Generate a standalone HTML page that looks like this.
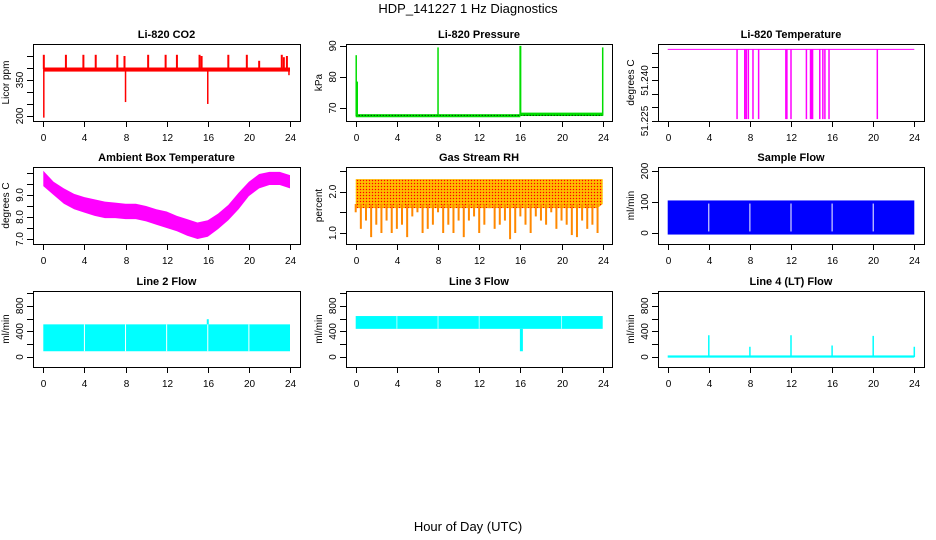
<!DOCTYPE html>
<html><head><meta charset="utf-8"><style>
body{margin:0;background:#fff}
svg{display:block;font-family:"Liberation Sans",sans-serif}
.t{font-weight:bold;font-size:11px;text-anchor:middle}
.tk{font-size:10px}
</style></head><body>
<svg id="c" width="936" height="540">
<defs>
<pattern id="rhpat" width="3" height="3" patternUnits="userSpaceOnUse"><rect width="3" height="3" fill="#ffa500"/><rect width="1" height="1" fill="#ff0000"/><rect x="1.5" y="1.5" width="1" height="1" fill="#ffff00"/></pattern>
</defs>
<text x="468" y="13" font-size="13" text-anchor="middle">HDP_141227  1 Hz Diagnostics</text>
<text x="468" y="531" font-size="13" text-anchor="middle">Hour of Day (UTC)</text>
</svg>
<script>
const xTicks=[0,4,8,12,16,20,24];
const co2Spikes=[0.05,2.2,3.9,5.1,7.2,7.9,10.2,11.9,13.0,15.2,15.4,18.0,19.8,21.0,23.2,23.4,23.7];
const co2SpikeVals=[455,455,455,455,455,450,455,455,455,455,450,455,455,430,455,445,450];
const co2Dips=[0.05,8.0,16.0,23.9];
const co2DipVals=[193,258,250,370];
const presSpikeHours=[0.05,0.15,8.0,16.0,24.0];
const presSpikeVals=[87,78.5,89.5,90,89.5];
const tempDropHours=[6.75,7.5,7.65,7.85,8.3,8.85,11.5,11.6,12.0,13.5,13.9,14.0,14.1,14.8,15.1,15.3,15.7,20.4];
const ambHours=[0,1,2,3,4,5,6,7,8,9,10,11,12,13,14,15,16,17,18,19,20,21,22,23,24];
const ambHigh=[10.1,9.6,9.3,9.05,8.9,8.8,8.7,8.65,8.6,8.6,8.5,8.35,8.25,8.05,7.9,7.75,7.85,8.15,8.55,9.1,9.6,9.95,10.05,10.05,9.9];
const ambLow=[9.4,9.0,8.6,8.35,8.2,8.05,7.95,7.95,7.9,7.9,7.8,7.65,7.5,7.35,7.15,7.0,7.1,7.45,7.85,8.35,8.95,9.3,9.45,9.45,9.3];
const rhHours=[0,0.5,1,1.5,2,2.5,3,3.5,4,4.5,5,5.5,6,6.5,7,7.5,8,8.5,9,9.5,10,10.5,11,11.5,12,12.5,13,13.5,14,14.5,15,15.5,16,16.5,17,17.5,18,18.5,19,19.5,20,20.5,21,21.5,22,22.5,23,23.5,24];
const rhLow=[1.5,1.1,1.3,0.9,1.2,1.0,1.3,1.0,1.1,1.2,0.9,1.4,1.5,1.0,1.1,1.2,1.5,1.0,1.2,1.0,1.3,0.9,1.3,1.4,1.0,1.2,1.6,1.1,1.2,1.3,0.85,1.0,1.4,1.2,1.0,1.4,1.3,1.2,1.5,1.1,1.3,1.2,0.95,0.9,1.3,1.1,1.2,1.0,1.7];
const rhHigh=2.3;
const flowGaps=[4,8,12,16,20];
const line3Gaps=[4,8,12,20];
const sampleLow=-5, sampleHigh=105;
const line2Low=90, line2High=510, line2SpikeHour=16, line2SpikeVal=590;
const line3Low=440, line3High=640, line3DipHour=16.1, line3DipVal=90;
const line4Hours=[4,8,12,16,20,24];
const line4Vals=[340,160,340,180,330,160];

const svg=document.getElementById('c');const NS='http://www.w3.org/2000/svg';
function el(t,a,p){const e=document.createElementNS(NS,t);for(const k in a)e.setAttribute(k,a[k]);(p||svg).appendChild(e);return e;}
const cols=[{L:33,R:300,a:43.3,b:290},{L:346,R:612,a:355.7,b:602.7},{L:658,R:924,a:667.7,b:914.3}];
const rows=[{T:44,B:121},{T:167,B:244},{T:291,B:367}];
function panel(name,ci,ri,title,ylab,ylo,yhi,yt,ylabs,ylabx){
  const c=cols[ci],r=rows[ri];
  const g=el('g',{});
  const sx=h=>c.a+(c.b-c.a)*h/24;
  const sy=v=>r.B-(v-ylo)/(yhi-ylo)*(r.B-r.T);
  const t=el('text',{x:(c.L+c.R)/2,y:r.T-6,class:'t'},g);t.textContent=title;
  const yl=el('text',{transform:`translate(${c.L-24},${(r.T+r.B)/2}) rotate(-90)`,'font-size':10,'text-anchor':'middle'},g);yl.textContent=ylab;
  
  const data=el('g',{},g);
  const ax=el('g',{stroke:'#000','stroke-width':1,fill:'none'},g);
  el('rect',{x:c.L+.5,y:r.T+.5,width:c.R-c.L,height:r.B-r.T},ax);
  xTicks.forEach(h=>{const x=Math.round(sx(h))+.5;el('line',{x1:x,x2:x,y1:r.B,y2:r.B+6},ax);
    const tx=el('text',{x:x,y:r.B+20,class:'tk','text-anchor':'middle',stroke:'none',fill:'#000'},g);tx.textContent=h;
    });
  yt.forEach(v=>{const y=Math.round(sy(v))+.5;el('line',{x1:c.L-6,x2:c.L,y1:y,y2:y},ax);});
  ylabs.forEach(v=>{const y=sy(v);const tx=el('text',{transform:`translate(${c.L-10},${y}) rotate(-90)`,class:'tk','text-anchor':'middle'},g);tx.textContent=ylabx?ylabx(v):v;
    });
  return {sx,sy,g:data};
}
function vline(p,h,v1,v2,col,w){el('line',{x1:p.sx(h),x2:p.sx(h),y1:p.sy(v1),y2:p.sy(v2),stroke:col,'stroke-width':w||1},p.g);}
function band(p,h1,h2,lo,hi,col){el('rect',{x:p.sx(h1),y:p.sy(hi),width:p.sx(h2)-p.sx(h1),height:p.sy(lo)-p.sy(hi),fill:col},p.g);}

let p=panel('co2-panel',0,0,'Li-820 CO2','Licor ppm',179,500,[200,250,300,350,400,450],[200,350]);
band(p,0,24,385,402,'#ff0000');
co2Spikes.forEach((h,i)=>vline(p,h,395,co2SpikeVals[i],'#ff0000',2));
co2Dips.forEach((h,i)=>vline(p,h,395,co2DipVals[i],'#ff0000',1.5));

p=panel('pressure-panel',1,0,'Li-820 Pressure','kPa',65.8,90.6,[70,80,90],[70,80,90]);
band(p,0,16,67.0,68.0,'#00dd00');band(p,16,24,67.4,68.5,'#00dd00');
el('line',{x1:p.sx(0),x2:p.sx(24),y1:p.sy(67.6),y2:p.sy(67.6),stroke:'#000','stroke-dasharray':'1,2'},p.g);
presSpikeHours.forEach((h,i)=>vline(p,h,67.5,presSpikeVals[i],'#00dd00',i==3?2:1.5));

p=panel('li820-temp-panel',2,0,'Li-820 Temperature','degrees C',51.225,51.2535,[51.225,51.23,51.235,51.24,51.245,51.25],[51.225,51.24],v=>v.toFixed(3));
el('line',{x1:p.sx(0),x2:p.sx(24),y1:p.sy(51.2515),y2:p.sy(51.2515),stroke:'#ff00ff'},p.g);
tempDropHours.forEach(h=>vline(p,h,51.2515,51.2257,'#ff00ff',1.5));

p=panel('ambient-temp-panel',0,1,'Ambient Box Temperature','degrees C',6.773,10.27,[7,7.5,8,8.5,9,9.5,10],[7,8,9],v=>v.toFixed(1));
el('polygon',{points:ambHours.map((h,i)=>p.sx(h)+','+p.sy(ambHigh[i])).concat(ambHours.map((h,i)=>p.sx(h)+','+p.sy(ambLow[i])).reverse()).join(' '),fill:'#ff00ff'},p.g);

p=panel('rh-panel',1,1,'Gas Stream RH','percent',0.734,2.594,[1,1.5,2,2.5],[1,2],v=>v.toFixed(1));
el('polygon',{points:[p.sx(0)+','+p.sy(rhHigh),p.sx(24)+','+p.sy(rhHigh)].concat(rhHours.map((h,i)=>p.sx(h)+','+p.sy(Math.max(rhLow[i],1.6))).reverse()).join(' '),fill:'url(#rhpat)'},p.g);
rhHours.forEach((h,i)=>vline(p,h,1.7,rhLow[i],'#ff8800',2));

p=panel('sample-flow-panel',2,1,'Sample Flow','ml/min',-35.5,212.9,[0,100,200],[0,100,200]);
band(p,0,24,sampleLow,sampleHigh,'#0000ff');
flowGaps.forEach(h=>vline(p,h,sampleLow+10,sampleHigh-10,'#ffffff',1));

p=panel('line2-flow-panel',0,2,'Line 2 Flow','ml/min',-156,1031,[0,200,400,600,800,1000],[0,400,800]);
band(p,0,24,line2Low,line2High,'#00ffff');
flowGaps.forEach(h=>vline(p,h,line2Low,line2High,'#ffffff',1));
vline(p,line2SpikeHour,line2High,line2SpikeVal,'#00ffff',2);

p=panel('line3-flow-panel',1,2,'Line 3 Flow','ml/min',-156,1031,[0,200,400,600,800,1000],[0,400,800]);
band(p,0,24,line3Low,line3High,'#00ffff');
line3Gaps.forEach(h=>vline(p,h,line3Low,line3High,'#aaffff',1));
vline(p,line3DipHour,line3Low,line3DipVal,'#00ffff',3);

p=panel('line4-flow-panel',2,2,'Line 4 (LT) Flow','ml/min',-156,1031,[0,200,400,600,800,1000],[0,400,800]);
band(p,0,24,-10,25,'#00ffff');
line4Hours.forEach((h,i)=>vline(p,h,0,line4Vals[i],'#00ffff',1.5));
</script>
</body></html>
